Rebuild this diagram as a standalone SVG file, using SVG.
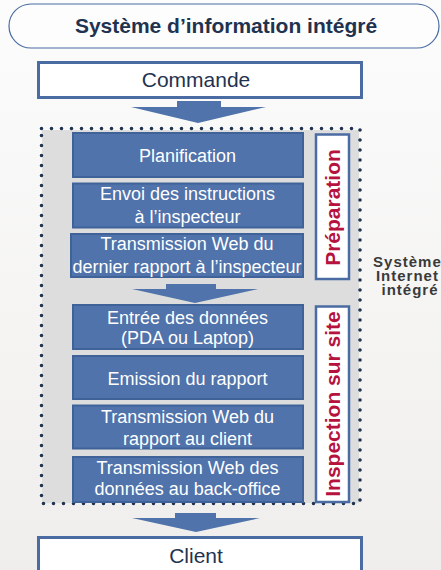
<svg xmlns="http://www.w3.org/2000/svg" width="441" height="570" viewBox="0 0 441 570">
<defs>
<linearGradient id="bg" x1="0" y1="0" x2="0" y2="1">
<stop offset="0" stop-color="#fcfcfc"/>
<stop offset="1" stop-color="#efeeec"/>
</linearGradient>
<style>
.step{fill:#4f73aa;stroke:#3f6299;stroke-width:2}
.st{font-family:"Liberation Sans",Arial,sans-serif;font-size:18px;fill:#ffffff;text-anchor:middle}
.frame{fill:#ffffff;stroke:#4a6ca3;stroke-width:3}
.ft{font-family:"Liberation Sans",Arial,sans-serif;font-size:21px;fill:#1f3350;text-anchor:middle}
.phase{fill:#ffffff;stroke:#4a6ca3;stroke-width:2.5}
.pt{font-family:"Liberation Sans",Arial,sans-serif;font-size:21px;font-weight:bold;fill:#b5123e;text-anchor:middle}
.arrow{fill:#4f73aa}
</style>
</defs>
<rect x="0" y="0" width="441" height="570" fill="url(#bg)"/>

<g id="title">
<rect x="9" y="4" width="430" height="44" rx="22" ry="22" fill="#fdfdfd" stroke="#4a6ca3" stroke-width="1.2"/>
<text x="226" y="32.5" font-family="'Liberation Sans',Arial,sans-serif" font-size="21" font-weight="bold" fill="#1f3350" text-anchor="middle">Système d’information intégré</text>
</g>

<g id="commande">
<rect class="frame" x="38.5" y="62.5" width="323" height="35"/>
<text class="ft" x="196" y="87">Commande</text>
</g>

<g id="zone">
<rect x="42" y="130" width="317" height="373" fill="#dddddd"/>
<rect x="41.5" y="128.5" width="318.5" height="375" fill="none" stroke="#1f3350" stroke-width="3.6" stroke-dasharray="0 10" stroke-linecap="round"/>
</g>

<g id="planification">
<rect class="step" x="73" y="133" width="230" height="44"/>
<text class="st" x="187.5" y="161.5">Planification</text>
</g>

<g id="envoi">
<rect class="step" x="73" y="183.5" width="230" height="44"/>
<text class="st" x="187.5" y="200">Envoi des instructions</text>
<text class="st" x="187.5" y="223">à l’inspecteur</text>
</g>

<g id="transmission-dernier">
<rect class="step" x="71" y="234" width="232" height="43"/>
<text class="st" x="187" y="250">Transmission Web du</text>
<text class="st" x="187" y="273">dernier rapport à l’inspecteur</text>
</g>

<g id="entree">
<rect class="step" x="73" y="305" width="230" height="44"/>
<text class="st" x="187.5" y="323.5">Entrée des données</text>
<text class="st" x="187.5" y="344">(PDA ou Laptop)</text>
</g>

<g id="emission">
<rect class="step" x="73" y="356" width="230" height="43"/>
<text class="st" x="187.5" y="385">Emission du rapport</text>
</g>

<g id="transmission-client">
<rect class="step" x="73" y="405.5" width="230" height="43"/>
<text class="st" x="187.5" y="423">Transmission Web  du</text>
<text class="st" x="187.5" y="445">rapport au client</text>
</g>

<g id="transmission-backoffice">
<rect class="step" x="73" y="457" width="230" height="45"/>
<text class="st" x="187.5" y="473.5">Transmission Web  des</text>
<text class="st" x="187.5" y="495">données au back-office</text>
</g>

<g id="preparation">
<rect class="phase" x="316" y="134.5" width="33" height="144.5"/>
<text class="pt" transform="translate(339.5,207.5) rotate(-90)">Préparation</text>
</g>

<g id="inspection">
<rect class="phase" x="316" y="306.5" width="33" height="195.5"/>
<text class="pt" transform="translate(339.5,404) rotate(-90)">Inspection sur site</text>
</g>

<g id="systeme-internet">
<text font-family="'Liberation Sans',Arial,sans-serif" font-size="15" font-weight="bold" fill="#3a3a3a" text-anchor="middle" letter-spacing="1">
<tspan x="410" y="267">Système</tspan>
<tspan x="410" y="281">Internet</tspan>
<tspan x="410" y="295">intégré</tspan>
</text>
</g>

<g id="client">
<rect class="frame" x="38.5" y="537.5" width="323" height="40"/>
<text class="ft" x="196" y="563">Client</text>
</g>

<g id="connectors">
<polygon class="arrow" points="177,101 221,101 221,107 266,107 198,123 131,107 177,107"/>
<polygon class="arrow" points="166,284 216,284 216,289 258,289 195,303 132,289 166,289"/>
<polygon class="arrow" points="175,513 216,513 216,518 260,518 196,532 132,518 175,518"/>
</g>
</svg>
